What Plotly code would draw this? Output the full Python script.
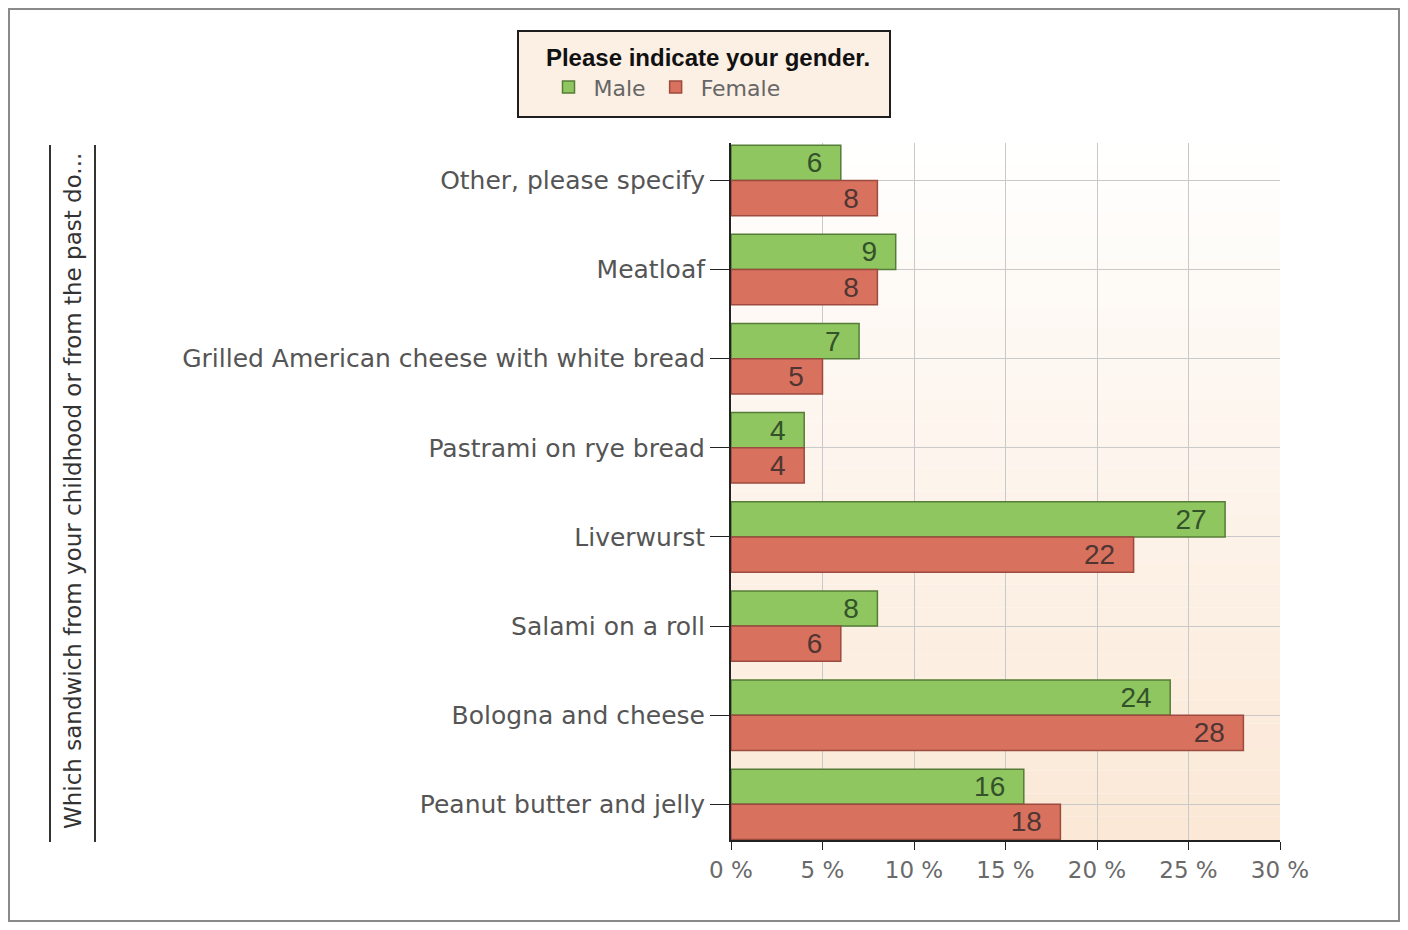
import plotly.graph_objects as go

categories = [
    "Other, please specify",
    "Meatloaf",
    "Grilled American cheese with white bread",
    "Pastrami on rye bread",
    "Liverwurst",
    "Salami on a roll",
    "Bologna and cheese",
    "Peanut butter and jelly",
]
male = [6, 9, 7, 4, 27, 8, 24, 16]
female = [8, 8, 5, 4, 22, 6, 28, 18]
x_ticks = [0, 5, 10, 15, 20, 25, 30]
legend_title = "Please indicate your gender."
y_title = "Which sandwich from your childhood or from the past do..."

OFF = 8  # page body margin
W, H = 1392, 914
ML, MT = 731 - OFF, 143 - OFF
MR = W - (1280 - OFF)
MB = H - (840 - OFF)
PW, PH = W - ML - MR, H - MT - MB


def px_x(px):
    return (px - OFF - ML) / PW


def px_y(py):
    return 1 - (py - OFF - MT) / PH


PAD = "\u00a0\u00a0"

fig = go.Figure()
fig.add_trace(go.Bar(
    y=categories, x=male, name="Male", orientation="h",
    marker=dict(color="#8fc660", line=dict(color="#557d37", width=1.5)),
    text=[str(v) + PAD for v in male], textposition="inside", insidetextanchor="end",
    textangle=0,
    textfont=dict(size=28, color="#34522a", family="Liberation Sans"),
    cliponaxis=False,
))
fig.add_trace(go.Bar(
    y=categories, x=female, name="Female", orientation="h",
    marker=dict(color="#d9715f", line=dict(color="#9c4b3e", width=1.5)),
    text=[str(v) + PAD for v in female], textposition="inside", insidetextanchor="end",
    textangle=0,
    textfont=dict(size=28, color="#4f3632", family="Liberation Sans"),
    cliponaxis=False,
))

shapes = []
# vertical gradient background (white at top -> peach at bottom)
N = 30
top = (255, 255, 255)
bot = (251, 232, 214)
for i in range(N):
    t = (i + 0.5) / N
    c = tuple(round(top[k] + (bot[k] - top[k]) * t) for k in range(3))
    shapes.append(dict(type="rect", xref="paper", yref="paper",
                       x0=0, x1=1, y0=1 - (i + 1) / N, y1=1 - i / N,
                       fillcolor="rgb(%d,%d,%d)" % c, line=dict(width=0), layer="below"))
# outer border
shapes.append(dict(type="rect", xref="paper", yref="paper",
                   x0=px_x(OFF + 1), x1=px_x(OFF + W - 1), y0=px_y(OFF + H - 1), y1=px_y(OFF + 1),
                   line=dict(color="#8a8a8a", width=2), fillcolor="rgba(0,0,0,0)"))
# legend box
shapes.append(dict(type="rect", xref="paper", yref="paper",
                   x0=px_x(518), x1=px_x(890), y0=px_y(117), y1=px_y(31),
                   line=dict(color="#1e1e1e", width=2), fillcolor="#fcefe3", layer="below"))
# lines framing the y-axis title
for lx in (50, 95):
    shapes.append(dict(type="line", xref="paper", yref="paper",
                       x0=px_x(lx), x1=px_x(lx), y0=px_y(842), y1=px_y(145),
                       line=dict(color="#333333", width=2)))

fig.update_layout(
    width=W, height=H,
    margin=dict(l=ML, r=MR, t=MT, b=MB, autoexpand=False),
    paper_bgcolor="white", plot_bgcolor="rgba(0,0,0,0)",
    barmode="group", bargap=0.21, bargroupgap=0.0,
    uniformtext=dict(minsize=28, mode="show"),
    font=dict(family="DejaVu Sans", color="#444444"),
    shapes=shapes,
    showlegend=True,
    legend=dict(
        orientation="h", x=px_x(708), xanchor="center", y=px_y(35), yanchor="top",
        bgcolor="rgba(0,0,0,0)", borderwidth=0,
        title=dict(text="<b>" + legend_title + "</b>", side="top center",
                   font=dict(family="Liberation Sans", size=24, color="#111111")),
        font=dict(family="DejaVu Sans", size=22, color="#666666"),
        itemwidth=40, traceorder="normal",
    ),
    annotations=[dict(
        text=y_title, textangle=-90, xref="paper", yref="paper",
        x=px_x(73), y=px_y(491), xanchor="center", yanchor="middle", showarrow=False,
        font=dict(family="DejaVu Sans", size=23, color="#333333"),
    )],
)

fig.update_xaxes(
    range=[0, 30], tickvals=x_ticks, ticktext=["%d %%" % v for v in x_ticks],
    showgrid=True, gridcolor="#c9c9c9", gridwidth=1,
    zeroline=False, showline=True, linecolor="#222222", linewidth=2,
    ticks="outside", ticklen=8, tickcolor="#222222",
    tickfont=dict(family="DejaVu Sans", size=23, color="#6a6a6a"),
)
fig.update_yaxes(
    categoryorder="array", categoryarray=categories,
    range=[7.4, -0.42],
    showgrid=True, gridcolor="#c9c9c9", gridwidth=1,
    zeroline=False, showline=True, linecolor="#222222", linewidth=2,
    ticks="outside", ticklen=19, tickcolor="#222222",
    tickfont=dict(family="DejaVu Sans", size=25, color="#555555"),
)

fig.write_html("out.html")
